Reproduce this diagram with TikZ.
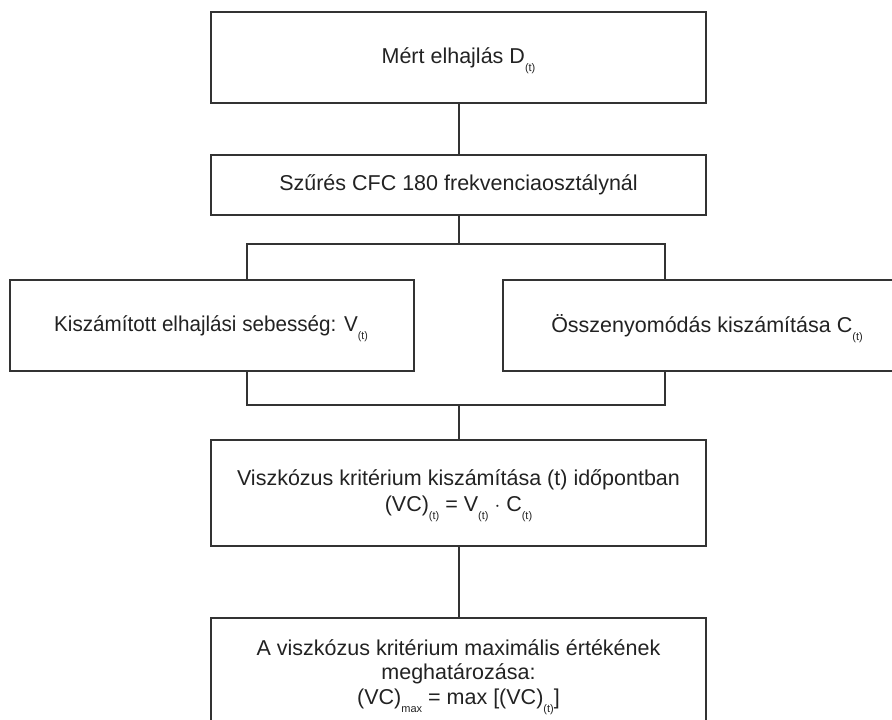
\documentclass[tikz,border=0pt]{standalone}
\usepackage{fontspec}
\setmainfont{Liberation Sans}
\definecolor{linec}{HTML}{333333}
\definecolor{textc}{HTML}{222222}
\newcommand{\sbs}[1]{\raisebox{-8pt}[0pt][0pt]{\fontsize{11}{11}\selectfont #1}}
\begin{document}
\begin{tikzpicture}[x=1pt,y=-1pt,
  box/.style={draw=linec, line width=2pt, rectangle, inner sep=0pt, align=center,
    text=textc, font=\fontsize{21.5}{24.5}\selectfont},
  txt/.style={inner sep=0pt, align=center, text=textc, font=\fontsize{21.5}{24.5}\selectfont},
  conn/.style={draw=linec, line width=2pt}]
\useasboundingbox (0,0) rectangle (892,720);
\clip (0,0) rectangle (892,720);
\node[box, minimum width=495pt, minimum height=91pt] (b1) at (458.5,57.5) {Mért elhajlás D\sbs{(t)}};
\node[box, minimum width=495pt, minimum height=60pt] (b2) at (458.5,185) {Szűrés CFC 180 frekvenciaosztálynál};
\node[box, minimum width=404pt, minimum height=91pt] (lbox) at (212,325.5) {};
\node[txt] (ltext) at (211,325.5) {\scalebox{0.96}[1]{Kiszámított elhajlási sebesség: V\sbs{(t)}}};
\node[box, minimum width=400pt, minimum height=91pt, anchor=west] (rbox) at (502,325.5) {};
\node[txt] (rtext) at (707,325.5) {Összenyomódás kiszámítása C\sbs{(t)}};
\node[box, minimum width=495pt, minimum height=106pt] (b4) at (458.5,493) {Viszkózus kritérium kiszámítása (t) időpontban\\[2pt](VC)\sbs{(t)} = V\sbs{(t)} $\cdot$ C\sbs{(t)}};
\node[box, minimum width=495pt, minimum height=112pt] (b5) at (458.5,674) {A viszkózus kritérium maximális értékének\\meghatározása:\\(VC)\sbs{max} = max [(VC)\sbs{(t)}]};
\coordinate (tl) at (247,244);
\coordinate (tr) at (665,244);
\coordinate (bl) at (247,405);
\coordinate (br) at (665,405);
\draw[conn] (b1.south) -- (b2.north);
\draw[conn] (b2.south) -- (b2.south |- tl);
\draw[conn] (lbox.north -| tl) -- (tl) -- (tr) -- (rbox.north -| tr);
\draw[conn] (lbox.south -| bl) -- (bl) -- (br) -- (rbox.south -| br);
\draw[conn] (b4.north |- bl) -- (b4.north);
\draw[conn] (b4.south) -- (b5.north);
\end{tikzpicture}
\end{document}
